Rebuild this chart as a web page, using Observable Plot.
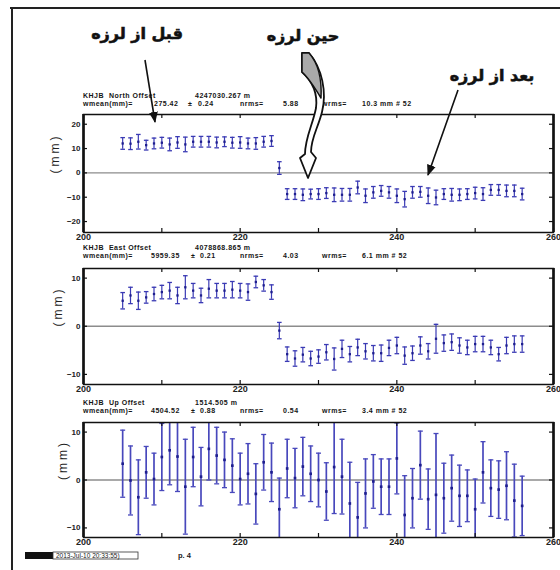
<!DOCTYPE html>
<html><head><meta charset="utf-8">
<script src="https://cdn.jsdelivr.net/npm/d3@7"></script>
<script src="https://cdn.jsdelivr.net/npm/@observablehq/plot@0.6"></script>
<style>
html,body{margin:0;padding:0;background:#fff;}
#page{position:relative;width:560px;height:570px;overflow:hidden;background:#fff;}
#page > svg{position:absolute;left:0;}
</style></head><body><div id="page"></div>
<script>
// ---------------- data ----------------
const days = [205,206,207,208,209,210,211,212,213,214,215,216,217,218,219,220,221,222,223,224,
  225,226,227,228,229,230,231,232,233,234,235,236,237,238,239,240,241,242,243,244,245,246,247,248,249,250,
  251,252,253,254,255,256];

const northVal = [12.1,12.0,12.8,11.4,12.1,12.4,11.7,12.5,11.7,12.8,12.8,12.8,12.5,12.8,12.4,12.5,12.1,12.1,12.8,13.1,
  2.0,
  -8.7,-8.7,-9.0,-8.7,-8.7,-8.3,-9.0,-9.0,-9.0,-6.0,-9.4,-8.0,-7.4,-8.0,-9.4,-10.8,-8.0,-7.8,-9.4,-10.1,
  -8.7,-9.0,-9.0,-8.7,-8.3,-8.7,-7.0,-7.0,-7.4,-7.4,-8.7];
const northErr = [2.4,2.4,3.0,2.0,2.2,2.2,2.6,2.4,3.0,2.2,2.2,2.2,2.2,2.0,2.2,2.4,2.2,2.4,2.2,2.2,
  2.6,
  2.2,2.2,2.4,2.0,2.2,2.2,2.8,2.6,2.6,2.6,2.8,2.4,2.2,2.4,2.8,3.2,2.4,2.2,3.2,3.0,
  2.2,2.6,2.4,2.2,2.4,2.6,2.2,2.2,2.4,2.4,2.4];

const eastVal = [5.3,6.4,5.3,6.0,6.7,7.1,7.4,6.4,8.1,7.4,6.4,7.8,7.4,7.4,7.6,7.4,7.1,9.2,8.5,7.1,
  -0.9,
  -5.8,-6.7,-5.9,-6.7,-6.3,-5.4,-6.8,-4.7,-5.8,-4.4,-5.2,-5.6,-5.6,-4.5,-4.0,-6.1,-5.6,-4.0,-5.2,-2.6,
  -3.5,-3.3,-4.0,-4.4,-3.7,-3.7,-4.4,-5.8,-4.0,-3.7,-3.7];
const eastErr = [1.7,1.7,1.8,1.2,1.4,1.4,1.7,1.7,2.4,1.5,1.5,1.9,1.5,1.5,1.7,1.5,1.7,1.2,1.2,1.5,
  1.7,
  1.5,1.6,1.5,1.5,1.4,1.6,2.3,1.8,1.6,1.7,1.6,1.6,1.7,1.6,1.7,1.8,1.5,1.8,1.6,3.0,
  1.7,1.7,1.6,1.5,1.6,1.6,1.5,1.4,1.7,1.7,1.7];

const upVal = [3.4,-0.1,-3.6,1.6,0.2,4.8,6.2,4.9,-1.4,4.8,0.7,6.5,5.1,4.2,3.0,0.2,1.3,-2.9,3.7,1.6,
  -6.1,
  2.4,0.4,2.8,1.3,0.0,-2.4,2.7,0.7,-4.9,-7.8,-2.8,-0.3,-1.4,-1.4,4.5,-7.3,-3.8,3.1,-4.0,-3.1,
  -3.8,-1.7,-3.3,-3.3,-6.1,1.6,-1.7,-2.0,-1.2,-4.3,-5.4];
const upErr = [7.0,7.2,7.8,5.4,5.4,7.0,7.2,7.3,9.9,6.2,6.1,6.5,5.9,5.8,5.6,5.4,6.3,6.3,5.8,6.1,
  6.5,
  6.1,6.2,6.1,5.8,5.6,6.0,9.7,7.8,8.6,7.3,7.2,5.6,5.8,5.8,7.4,8.2,6.2,7.1,6.3,12.8,
  7.3,6.9,6.4,5.4,6.3,6.4,5.9,6.0,7.1,7.6,6.2];

const xTickMinor = [200,210,220,230,240,250,260];
const xTickLabels = [200,220,240,260];
const yTicksNorth = [-20,-10,0,10,20];
const yTicksEU = [-10,0,10];

const station = "KHJB";
const components = ["North", "East", "Up"];
const refPositions = ["4247030.267 m", "4078868.865 m", "1514.505 m"];
const wmeans = ["275.42", "5959.35", "4504.52"];
const wmeanErrs = ["0.24", "0.21", "0.88"];
const nrmsVals = ["5.88", "4.03", "0.54"];
const wrmsVals = ["10.3", "6.1", "3.4"];
const nObs = "52";
const yLabel = "(mm)";

const labelBefore = "قبل از لرزه";
const labelDuring = "حین لرزه";
const labelAfter = "بعد از لرزه";
const stampText = "2013-Jul-10 20:33:55)";
const pageText = "p. 4";

// ---------------- helpers ----------------
const rowsOf = (vals, errs) => days.map((d, i) => ({day: d, v: vals[i], e: errs[i]}));
const capSymbol = {
  draw(ctx, size) { const r = Math.sqrt(size / Math.PI); ctx.moveTo(-r, 0); ctx.lineTo(r, 0); }
};

const page = document.getElementById("page");

function drawPanel(cfg) {
  const {rows, yDomain, yTicks, frameTop, frameH, mmDx, barWidth, capR, dotR, barColor, dotColor} = cfg;
  const mt = 2, mb = 16, mL = 83, mR = 7;
  const frameW = 560 - mL - mR;
  const chart = Plot.plot({
    width: 560, height: frameH + mt + mb,
    marginTop: mt, marginBottom: mb, marginLeft: mL, marginRight: mR,
    style: {background: "transparent", fontFamily: "'Liberation Sans', Arial, sans-serif", fontSize: "8px", overflow: "visible", color: "#111"},
    x: {domain: [200, 260], label: null},
    y: {domain: yDomain, label: null},
    marks: [
      Plot.ruleY([0], {stroke: "#8c8c8c", strokeWidth: 1.3}),
      Plot.ruleX(rows, {x: "day", y1: d => d.v - d.e, y2: d => d.v + d.e, stroke: barColor, strokeWidth: barWidth, clip: true}),
      Plot.dot(rows, {x: "day", y: d => d.v + d.e, symbol: capSymbol, r: capR, stroke: barColor, fill: "none", strokeWidth: 1.3, clip: true}),
      Plot.dot(rows, {x: "day", y: d => d.v - d.e, symbol: capSymbol, r: capR, stroke: barColor, fill: "none", strokeWidth: 1.3, clip: true}),
      Plot.dot(rows, {x: "day", y: "v", symbol: "square", r: dotR, fill: dotColor, stroke: "none"}),
      Plot.ruleX(xTickMinor, {x: d => d, insetBottom: frameH - 4, stroke: "#111", strokeWidth: 1.2}),
      Plot.ruleX(xTickMinor, {x: d => d, insetTop: frameH - 4, stroke: "#111", strokeWidth: 1.2}),
      Plot.ruleY(yTicks, {y: d => d, insetRight: frameW - 4, stroke: "#111", strokeWidth: 1.2}),
      Plot.ruleY(yTicks, {y: d => d, insetLeft: frameW - 4, stroke: "#111", strokeWidth: 1.2}),
      Plot.frame({stroke: "#111", strokeWidth: 1.5}),
      Plot.ruleX([200, 260], {x: d => d, stroke: "#111", strokeWidth: 2.6}),
      Plot.axisX({ticks: xTickLabels, tickSize: 0, tickPadding: 1.5, fontSize: 9, fontWeight: "bold", label: null, fill: "#222"}),
      Plot.axisY({ticks: yTicks, tickSize: 0, tickPadding: 3, fontSize: 8, fontWeight: "bold", label: null, fill: "#222"}),
      Plot.text([yLabel], {text: d => d, frameAnchor: "left", dx: mmDx, rotate: -90, fontSize: 12, fill: "#222"})
    ]
  });
  chart.style.top = (frameTop - mt) + "px";
  d3.select(chart).selectAll("text").filter(function() { return this.textContent === yLabel; })
    .attr("letter-spacing", "3px");
  page.appendChild(chart);
}

const blue = "#3a3ab4", darkBlue = "#1e1e8e";
drawPanel({rows: rowsOf(northVal, northErr), yDomain: [-24.5, 24], yTicks: yTicksNorth, frameTop: 114, frameH: 118,
  mmDx: -28, barWidth: 1.2, capR: 2.3, dotR: 1.3, barColor: blue, dotColor: darkBlue});
drawPanel({rows: rowsOf(eastVal, eastErr), yDomain: [-12.1, 12], yTicks: yTicksEU, frameTop: 268, frameH: 116,
  mmDx: -25, barWidth: 1.2, capR: 2.3, dotR: 1.3, barColor: blue, dotColor: darkBlue});
drawPanel({rows: rowsOf(upVal, upErr), yDomain: [-12, 12], yTicks: yTicksEU, frameTop: 422, frameH: 115,
  mmDx: -20, barWidth: 1.7, capR: 2.5, dotR: 1.5, barColor: "#4848bc", dotColor: darkBlue});

// ---------------- overlay: headers, annotations, frame ----------------
const ov = d3.select(page).append("svg").attr("width", 560).attr("height", 570)
  .style("top", "0px").style("pointer-events", "none");

const defs = ov.append("defs");
defs.append("marker").attr("id", "ah").attr("viewBox", "0 0 10 10").attr("refX", 9).attr("refY", 5)
  .attr("markerWidth", 7).attr("markerHeight", 7).attr("orient", "auto")
  .append("path").attr("d", "M0,1 L10,5 L0,9 Z").attr("fill", "#111");

// page frame
ov.append("line").attr("x1", 10).attr("y1", 8).attr("x2", 560).attr("y2", 8).attr("stroke", "#222").attr("stroke-width", 2);
ov.append("line").attr("x1", 12).attr("y1", 8).attr("x2", 12).attr("y2", 570).attr("stroke", "#222").attr("stroke-width", 2);

// headers
const headerLine1Y = [97.5, 249.5, 404.5];
const headerGap = 8.2;
const hdr = ov.append("g").attr("font-family", "'Liberation Sans', Arial, sans-serif")
  .attr("font-weight", "bold").attr("font-size", 7).attr("letter-spacing", "0.5px").attr("fill", "#151515");
components.forEach((c, i) => {
  const y1 = headerLine1Y[i], y2 = y1 + headerGap;
  hdr.append("text").attr("x", 83).attr("y", y1).attr("xml:space", "preserve").text(`${station}  ${c} Offset`);
  hdr.append("text").attr("x", 195).attr("y", y1).text(refPositions[i]);
  hdr.append("text").attr("x", 83).attr("y", y2).text("wmean(mm)=");
  hdr.append("text").attr("x", i === 0 ? 154 : 151).attr("y", y2).text(wmeans[i]);
  hdr.append("text").attr("x", i === 0 ? 188 : 191).attr("y", y2).text("±");
  hdr.append("text").attr("x", i === 0 ? 198 : 200).attr("y", y2).text(wmeanErrs[i]);
  hdr.append("text").attr("x", 240).attr("y", y2).text("nrms=");
  hdr.append("text").attr("x", 283).attr("y", y2).text(nrmsVals[i]);
  hdr.append("text").attr("x", 322).attr("y", y2).text("wrms=");
  hdr.append("text").attr("x", 362).attr("y", y2).attr("xml:space", "preserve").text(`${wrmsVals[i]} mm # ${nObs}`);
});

// Persian annotations
const fa = ov.append("g").attr("font-family", "'DejaVu Sans', sans-serif").attr("font-weight", "bold")
  .attr("font-size", 16).attr("fill", "#111").attr("stroke", "#111").attr("stroke-width", 0.6)
  .attr("text-anchor", "middle").attr("direction", "rtl");
fa.append("text").attr("x", 137).attr("y", 39).text(labelBefore);
fa.append("text").attr("x", 303).attr("y", 41).text(labelDuring);
fa.append("text").attr("x", 492).attr("y", 81).text(labelAfter);

// straight arrows
ov.append("line").attr("x1", 145).attr("y1", 60).attr("x2", 155).attr("y2", 122)
  .attr("stroke", "#111").attr("stroke-width", 1.6).attr("marker-end", "url(#ah)");
ov.append("line").attr("x1", 458).attr("y1", 90).attr("x2", 428).attr("y2", 175)
  .attr("stroke", "#111").attr("stroke-width", 1.6).attr("marker-end", "url(#ah)");

// curved arrow
ov.append("path")
  .attr("d", "M302,53 L309,53 C322,68 327,92 322,112 C318,128 311,138 311,152 L316,158 L308,178 L300,158 L305,154 C305,138 313,124 316,108 C318,92 311,80 302,72 Z")
  .attr("fill", "#fff").attr("stroke", "#111").attr("stroke-width", 1.8).attr("stroke-linejoin", "round");
ov.append("path")
  .attr("d", "M302,53 L309,53 C318,63 322,80 321,98 C315,88 309,78 302,72 Z")
  .attr("fill", "#a9a9a9").attr("stroke", "#111").attr("stroke-width", 1.5).attr("stroke-linejoin", "round");

// bottom stamp
ov.append("rect").attr("x", 25).attr("y", 552).attr("width", 28).attr("height", 7).attr("fill", "#111");
ov.append("rect").attr("x", 53).attr("y", 552).attr("width", 85).attr("height", 7).attr("fill", "#fff").attr("stroke", "#333").attr("stroke-width", 0.8);
ov.append("text").attr("x", 56).attr("y", 558).attr("font-family", "'Liberation Sans', Arial, sans-serif")
  .attr("font-size", 6.5).attr("fill", "#222").text(stampText);
ov.append("text").attr("x", 178).attr("y", 558).attr("font-family", "'Liberation Sans', Arial, sans-serif")
  .attr("font-size", 7.5).attr("font-weight", "bold").attr("fill", "#222").text(pageText);
</script></body></html>
